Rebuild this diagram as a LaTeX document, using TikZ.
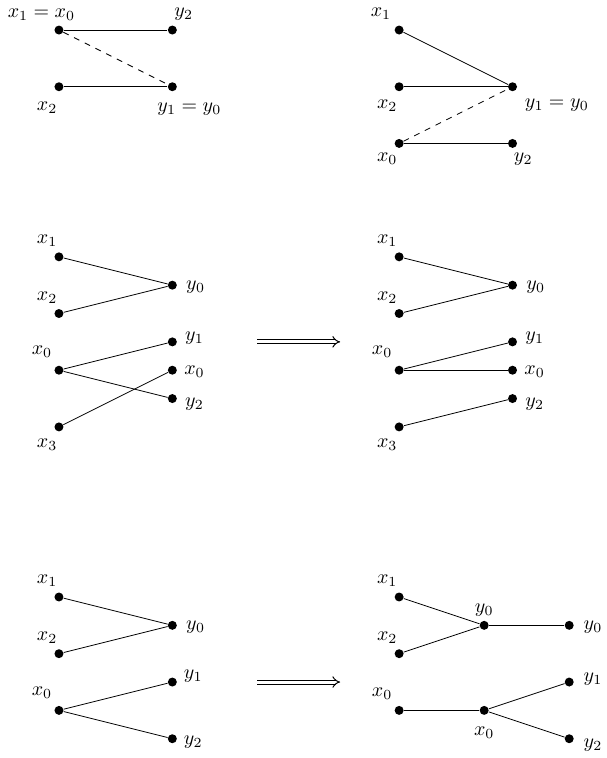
\documentclass[tikz,border=0pt]{standalone}
\usetikzlibrary{arrows.meta}

\begin{document}
\begin{tikzpicture}
    \tikzset{dot/.style={circle,fill=black,inner sep=0pt,minimum size=4.5pt}}
    \tikzset{lab/.style={inner sep=0pt}}
    \tikzset{imp/.style={double,line width=0.5pt,double distance=1.5pt,-Implies}}
    \useasboundingbox (-1.04,0.53) rectangle (9.665,-12.84);
    \node[dot] (a1) at (0,0) {};
\node[dot] (a2) at (2,0) {};
\node[dot] (a3) at (0,-1) {};
\node[dot] (a4) at (2,-1) {};
\node[lab] (la1) at (-0.31,0.27) {$x_1 = x_0$};
\node[lab] (la2) at (2.2,0.28) {$y_2$};
\node[lab] (la3) at (-0.21,-1.37) {$x_2$};
\node[lab] (la4) at (2.3,-1.39) {$y_1 = y_0$};
\draw (a1) -- (a2);
\draw (a3) -- (a4);
\draw[dashed] (a1) -- (a4);
    \node[dot] (b1) at (6,0) {};
\node[dot] (b2) at (6,-1) {};
\node[dot] (b3) at (8,-1) {};
\node[dot] (b4) at (6,-2) {};
\node[dot] (b5) at (8,-2) {};
\node[lab] (lb1) at (5.68,0.28) {$x_1$};
\node[lab] (lb2) at (5.79,-1.34) {$x_2$};
\node[lab] (lb3) at (8.78,-1.32) {$y_1 = y_0$};
\node[lab] (lb4) at (5.79,-2.27) {$x_0$};
\node[lab] (lb5) at (8.19,-2.28) {$y_2$};
\draw (b1) -- (b3);
\draw (b2) -- (b3);
\draw[dashed] (b4) -- (b3);
\draw (b4) -- (b5);
    \node[dot] (c1) at (0,-4) {};
\node[dot] (c2) at (0,-5) {};
\node[dot] (c3) at (2,-4.5) {};
\node[dot] (c4) at (2,-5.5) {};
\node[dot] (c5) at (0,-6) {};
\node[dot] (c6) at (2,-6) {};
\node[dot] (c7) at (2,-6.5) {};
\node[dot] (c8) at (0,-7) {};
\node[lab] (lc1) at (-0.21,-3.72) {$x_1$};
\node[lab] (lc2) at (-0.21,-4.72) {$x_2$};
\node[lab] (lc3) at (2.41,-4.53) {$y_0$};
\node[lab] (lc4) at (2.39,-5.43) {$y_1$};
\node[lab] (lc5) at (-0.3,-5.68) {$x_0$};
\node[lab] (lc6) at (2.39,-6.03) {$x_0$};
\node[lab] (lc7) at (2.39,-6.59) {$y_2$};
\node[lab] (lc8) at (-0.21,-7.32) {$x_3$};
\draw (c1) -- (c3);
\draw (c2) -- (c3);
\draw (c5) -- (c4);
\draw (c5) -- (c7);
\draw (c8) -- (c6);
    \coordinate (p1) at (3.5,-5.5);
\coordinate (p2) at (4.96,-5.5);
\draw[imp] (p1) -- (p2);
    \node[dot] (d1) at (6,-4) {};
\node[dot] (d2) at (6,-5) {};
\node[dot] (d3) at (8,-4.5) {};
\node[dot] (d4) at (8,-5.5) {};
\node[dot] (d5) at (6,-6) {};
\node[dot] (d6) at (8,-6) {};
\node[dot] (d7) at (8,-6.5) {};
\node[dot] (d8) at (6,-7) {};
\node[lab] (ld1) at (5.79,-3.72) {$x_1$};
\node[lab] (ld2) at (5.79,-4.72) {$x_2$};
\node[lab] (ld3) at (8.41,-4.53) {$y_0$};
\node[lab] (ld4) at (8.39,-5.43) {$y_1$};
\node[lab] (ld5) at (5.7,-5.68) {$x_0$};
\node[lab] (ld6) at (8.39,-6.03) {$x_0$};
\node[lab] (ld7) at (8.39,-6.59) {$y_2$};
\node[lab] (ld8) at (5.79,-7.32) {$x_3$};
\draw (d1) -- (d3);
\draw (d2) -- (d3);
\draw (d5) -- (d4);
\draw (d5) -- (d6);
\draw (d8) -- (d7);
    \node[dot] (e1) at (0,-10) {};
\node[dot] (e2) at (0,-11) {};
\node[dot] (e3) at (2,-10.5) {};
\node[dot] (e4) at (2,-11.5) {};
\node[dot] (e5) at (0,-12) {};
\node[dot] (e6) at (2,-12.5) {};
\node[lab] (le1) at (-0.21,-9.72) {$x_1$};
\node[lab] (le2) at (-0.21,-10.72) {$x_2$};
\node[lab] (le3) at (2.41,-10.53) {$y_0$};
\node[lab] (le4) at (2.37,-11.39) {$y_1$};
\node[lab] (le5) at (-0.3,-11.69) {$x_0$};
\node[lab] (le6) at (2.37,-12.56) {$y_2$};
\draw (e1) -- (e3);
\draw (e2) -- (e3);
\draw (e5) -- (e4);
\draw (e5) -- (e6);
    \coordinate (q1) at (3.5,-11.5);
\coordinate (q2) at (4.96,-11.5);
\draw[imp] (q1) -- (q2);
    \node[dot] (f1) at (6,-10) {};
\node[dot] (f2) at (6,-11) {};
\node[dot] (f3) at (7.5,-10.5) {};
\node[dot] (f4) at (9,-10.5) {};
\node[dot] (f5) at (9,-11.5) {};
\node[dot] (f6) at (6,-12) {};
\node[dot] (f7) at (7.5,-12) {};
\node[dot] (f8) at (9,-12.5) {};
\node[lab] (lf1) at (5.79,-9.72) {$x_1$};
\node[lab] (lf2) at (5.79,-10.72) {$x_2$};
\node[lab] (lf3) at (7.5,-10.23) {$y_0$};
\node[lab] (lf4) at (9.42,-10.53) {$y_0$};
\node[lab] (lf5) at (9.42,-11.45) {$y_1$};
\node[lab] (lf6) at (5.7,-11.7) {$x_0$};
\node[lab] (lf7) at (7.5,-12.39) {$x_0$};
\node[lab] (lf8) at (9.42,-12.62) {$y_2$};
\draw (f1) -- (f3);
\draw (f2) -- (f3);
\draw (f3) -- (f4);
\draw (f6) -- (f7);
\draw (f7) -- (f5);
\draw (f7) -- (f8);

\end{tikzpicture}
\end{document}
